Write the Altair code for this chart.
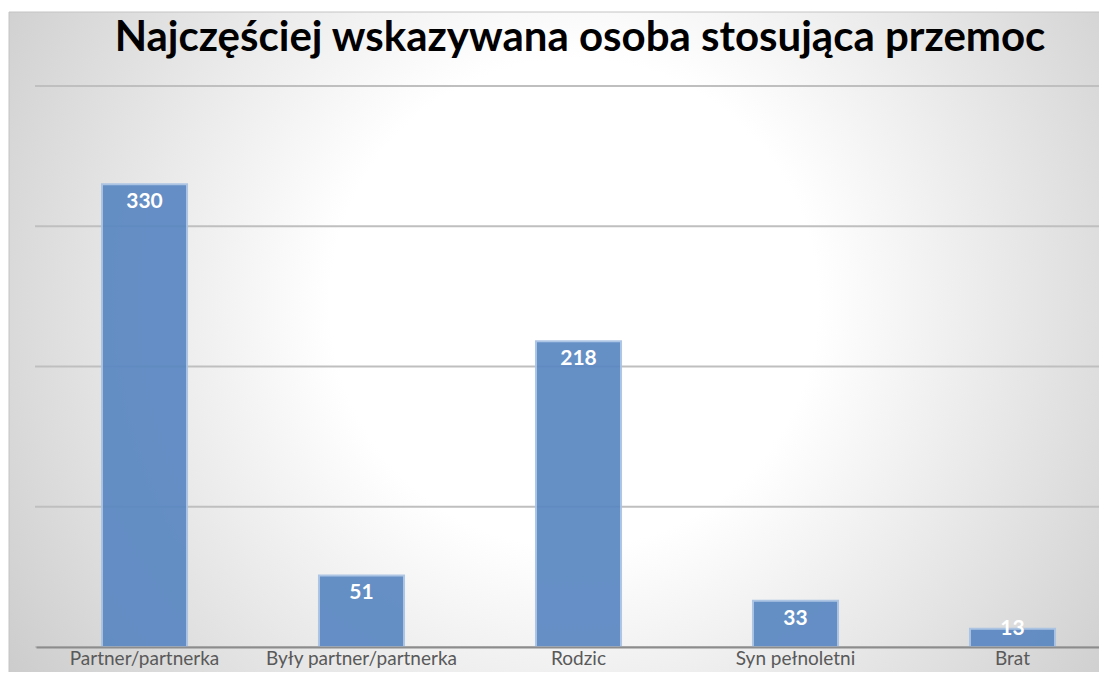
import altair as alt
import pandas as pd

TITLE = "Najczęściej wskazywana osoba stosująca przemoc"
categories = ["Partner/partnerka", "Były partner/partnerka", "Rodzic", "Syn pełnoletni", "Brat"]
values = [330, 51, 218, 33, 13]
grid_values = [0, 100, 200, 300, 400]

W = 1063
H = 561
STEP_RANGE = 1085

df = pd.DataFrame({"cat": categories, "value": values})
grid_df = pd.DataFrame({"g": grid_values})
one = pd.DataFrame({"t": [TITLE]})

xenc = alt.X("cat:N", sort=categories, title=None,
             scale=alt.Scale(paddingInner=0.608, paddingOuter=0.304, range=[0, STEP_RANGE]),
             axis=alt.Axis(labelAngle=0, ticks=False, labelFont="Lato", labelFontSize=19,
                           labelColor="#595959", labelPadding=2, domainColor="#8c8c8c",
                           domainWidth=2, grid=False, zindex=1, labelBaseline="top",
                           labelLimit=0))
yscale = alt.Scale(domain=[0, 400], nice=False, zero=True)

bg = alt.Chart(one).mark_rect(
    color=alt.RadialGradient(
        gradient="radial", x1=0.5, y1=0.45, r1=0.0, x2=0.5, y2=0.45, r2=0.72,
        stops=[alt.GradientStop(offset=0, color="#ffffff"),
               alt.GradientStop(offset=0.3, color="#ffffff"),
               alt.GradientStop(offset=1, color="#bcbcbc")]),
    stroke="#c4c4c4", strokeWidth=1
).encode(x=alt.value(-27), x2=alt.value(W + 40), y=alt.value(-74), y2=alt.value(H + 60))

grid = alt.Chart(grid_df).mark_rule(color="#bfbfbf", strokeWidth=2).encode(
    y=alt.Y("g:Q", scale=yscale, axis=None), x=alt.value(-1), x2=alt.value(W + 20))

bars = alt.Chart(df).mark_bar(color="#5987c2", opacity=0.92, stroke="#a8c2e3", strokeWidth=2).encode(
    x=xenc, y=alt.Y("value:Q", scale=yscale, axis=None))

labels = alt.Chart(df).transform_calculate(
    pos="datum.value > 20 ? datum.value - 12.8 : datum.value"
).mark_text(font="Lato", fontSize=21, fontWeight="bold", color="white", baseline="middle").encode(
    x=alt.X("cat:N", sort=categories), y=alt.Y("pos:Q", scale=yscale), text="value:Q")

title = alt.Chart(one).mark_text(font="Lato", fontSize=42, fontWeight="bold", color="#000000",
                                 align="center", baseline="alphabetic").encode(
    x=alt.value(544), y=alt.value(-35), text="t:N")

chart = alt.layer(bg, grid, bars, labels, title).properties(
    width=W, height=H,
    autosize=alt.AutoSizeParams(type="none"),
    padding={"left": 28, "top": 78, "right": 0, "bottom": 25},
    background="white"
).configure_view(stroke=None)

chart.save("out.html", embed_options={"renderer": "svg", "actions": False})
